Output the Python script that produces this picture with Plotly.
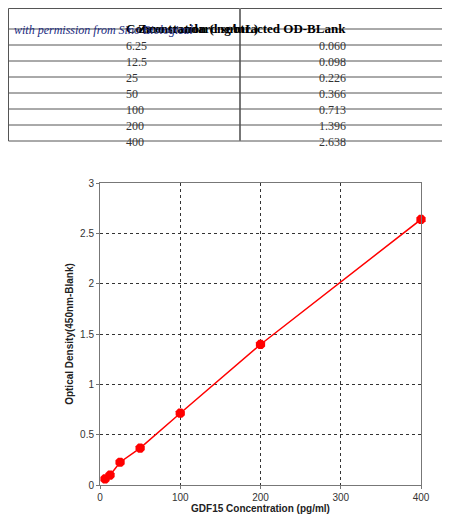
import plotly.graph_objects as go

conc_labels = ["6.25", "12.5", "25", "50", "100", "200", "400"]
od_labels = ["0.060", "0.098", "0.226", "0.366", "0.713", "1.396", "2.638"]
header_labels = ["<b>Concentration ( ng/mL)</b>", "<b>Zero standard subtracted OD-BLank</b>"]
conc = [6.25, 12.5, 25, 50, 100, 200, 400]
od = [0.060, 0.098, 0.226, 0.366, 0.713, 1.396, 2.638]

W, H = 450, 523
def py(v):
    return 1 - v / H
def px(v):
    return v / W

fig = go.Figure()
fig.add_trace(go.Scatter(
    x=conc, y=od, mode="lines+markers",
    line=dict(color="#ff0000", width=1.5),
    marker=dict(color="#ff0000", size=10, symbol="octagon"),
    cliponaxis=False, showlegend=False))

# table drawn with shapes
left, mid, right = 0.5, 232, 448
hdr_h, row_h = 21, 16
bottom = hdr_h + row_h * len(conc_labels)
shapes = [dict(type="rect", xref="paper", yref="paper", x0=px(left), x1=px(right), y0=py(bottom), y1=py(0.5),
               line=dict(color="#555", width=1)),
          dict(type="line", xref="paper", yref="paper", x0=px(mid), x1=px(mid), y0=py(bottom), y1=py(0),
               line=dict(color="#777", width=2))]
for i in range(len(conc_labels)):
    yl = hdr_h + row_h * i
    shapes.append(dict(type="line", xref="paper", yref="paper", x0=px(left), x1=px(right), y0=py(yl), y1=py(yl),
                       line=dict(color="#555", width=1)))
anns = []
for j, t in enumerate(header_labels):
    cx = (left + mid) / 2 if j == 0 else (mid + right) / 2
    anns.append(dict(x=px(cx), y=py(hdr_h / 2), xref="paper", yref="paper", text=t, showarrow=False,
                     font=dict(family="Liberation Serif", size=13, color="black")))
for i, (a, b) in enumerate(zip(conc_labels, od_labels)):
    yc = hdr_h + row_h * i + row_h / 2
    anns.append(dict(x=px((left + mid) / 2), y=py(yc), xref="paper", yref="paper", text=a, showarrow=False,
                     font=dict(family="Liberation Serif", size=12, color="#333")))
    anns.append(dict(x=px((mid + right) / 2), y=py(yc), xref="paper", yref="paper", text=b, showarrow=False,
                     font=dict(family="Liberation Serif", size=12, color="#333")))
anns.append(dict(x=px(4), y=py(13), xref="paper", yref="paper", xanchor="left",
                 text="<i>with permission from Sino Biological</i>", showarrow=False,
                 font=dict(family="Liberation Serif", size=12, color="#1a2a80")))

axis_common = dict(showline=True, linecolor="#777", mirror=True, ticks="outside", ticklen=3,
                   tickcolor="#777", showgrid=True, gridcolor="#333", griddash="dot",
                   gridwidth=1, zeroline=False, tickfont=dict(family="Liberation Sans", size=10, color="#333"))
fig.update_layout(
    width=W, height=H, margin=dict(l=0, r=0, t=0, b=0), paper_bgcolor="white", plot_bgcolor="white",
    shapes=shapes, annotations=anns,
    xaxis=dict(domain=[px(92), px(413)], range=[0, 400], dtick=100, automargin=False,
               title=dict(text="<b>GDF15 Concentration (pg/ml)</b>", standoff=2,
                          font=dict(family="Liberation Sans", size=10, color="#222")), **axis_common),
    yaxis=dict(domain=[py(477), py(175)], range=[0, 3], dtick=0.5, automargin=False,
               title=dict(text="<b>Optical Density(450nm-Blank)</b>", standoff=4,
                          font=dict(family="Liberation Sans", size=10, color="#222")), **axis_common),
)
fig.write_html("out.html")
